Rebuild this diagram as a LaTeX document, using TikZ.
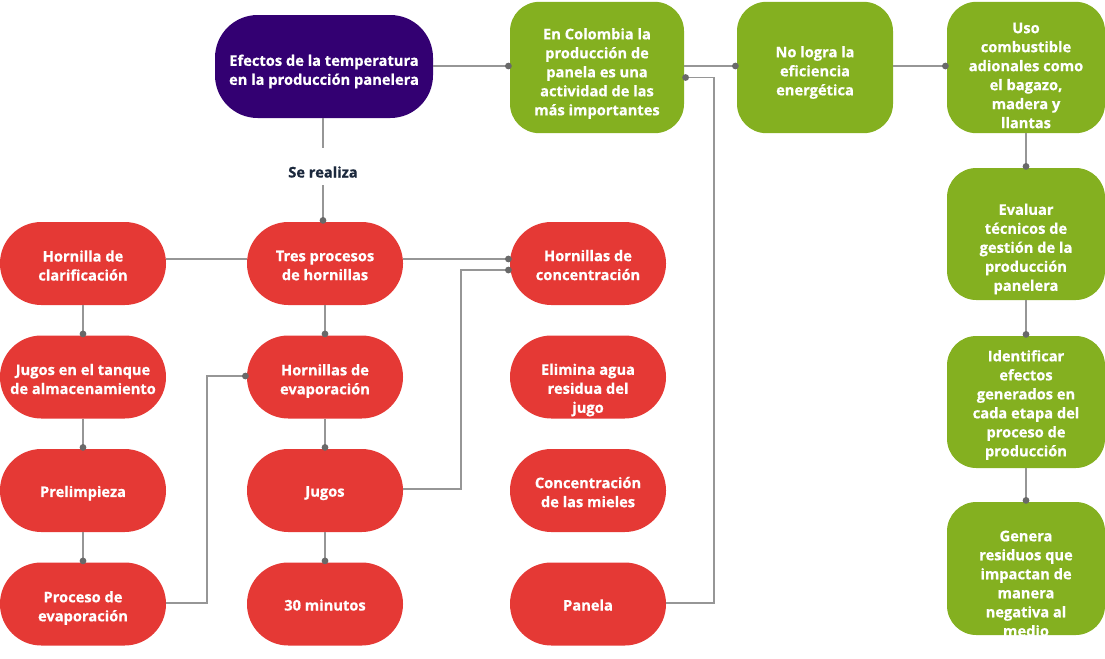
\documentclass[tikz,border=0pt]{standalone}
\usepackage{fontspec}
\setmainfont{Open Sans}[BoldFeatures={FakeBold=0.6}]
\usetikzlibrary{arrows.meta}
\definecolor{cred}{RGB}{229,57,53}
\definecolor{cgreen}{RGB}{132,176,32}
\definecolor{cpurple}{RGB}{51,0,114}
\definecolor{cline}{RGB}{150,150,150}
\definecolor{cdot}{RGB}{105,105,105}
\definecolor{cnavy}{RGB}{27,40,60}
\begin{document}
\begin{tikzpicture}[x=0.75pt,y=-0.75pt,
  box/.style={draw=none, inner sep=0pt},
  txt/.style={align=center, text=white, inner sep=0pt,
    font=\bfseries\fontsize{11}{14.25}\selectfont},
  redbox/.style={box, fill=cred, rounded corners=31pt, minimum width=117pt, minimum height=62.25pt},
  greenbox/.style={box, fill=cgreen, rounded corners=22pt, minimum width=117pt, minimum height=98.5pt},
  purplebox/.style={box, fill=cpurple, rounded corners=32pt, minimum width=163.5pt, minimum height=77.25pt},
  conn/.style={draw=cline, line width=0.9pt},
  dotconn/.style={conn, -{Circle[length=5pt,color=cdot]}, shorten >=-1.5pt},
  lbl/.style={text=cnavy, font=\bfseries\fontsize{11}{14.25}\selectfont, inner sep=0pt}
]
\useasboundingbox (0,0) rectangle (1105,658);

% top row
\node[purplebox] (ef) at (324,66.5) {};
\node[txt] (ef-t) at ([yshift=-3.75pt]ef.center) {Efectos de la temperatura\\en la producción panelera};
\node[greenbox, minimum width=130.5pt] (col) at (597,67.5) {};
\node[txt] (col-t) at ([yshift=-4.5pt]col.center) {En Colombia la\\producción de\\panela es una\\actividad de las\\más importantes};
\node[greenbox] (nl) at (815,67.5) {};
\node[txt] (nl-t) at ([yshift=-3.75pt]nl.center) {No logra la\\eficiencia\\energética};
\node[greenbox, minimum width=118.5pt] (uso) at (1026,67.5) {};
\node[txt] (uso-t) at ([yshift=-6pt]uso.center) {Uso\\combustible\\adionales como\\el bagazo,\\madera y\\llantas};
\node[greenbox, minimum width=118.5pt, minimum height=99pt] (ev) at (1026,234) {};
\node[txt] (ev-t) at ([yshift=-11.25pt]ev.center) {Evaluar\\técnicos de\\gestión de la\\producción\\panelera};
\node[greenbox, minimum width=118.5pt, minimum height=99pt] (id) at (1026,402) {};
\node[txt] (id-t) at ([yshift=-2.25pt]id.center) {Identificar\\efectos\\generados en\\cada etapa del\\proceso de\\producción};
\node[greenbox, minimum width=118.5pt, minimum height=99.75pt] (gen) at (1026,568.5) {};
\node[txt] (gen-t) at ([yshift=-11.25pt]gen.center) {Genera\\residuos que\\impactan de\\manera\\negativa al\\medio};

% label
\node[lbl] (sr) at (323,172) {Se realiza};
\coordinate (sra) at (323,148);
\coordinate (srb) at (323,185);

% red column 1
\node[redbox, minimum width=124.5pt] (cla) at (83,263.5) {};
\node[txt] (cla-t) at ([yshift=-1.5pt]cla.center) {Hornilla de\\clarificación};
\node[redbox, minimum width=124.5pt] (jt) at (83,377) {};
\node[txt] (jt-t) at ([yshift=-1.5pt]jt.center) {Jugos en el tanque\\de almacenamiento};
\node[redbox, minimum width=124.5pt] (pre) at (83,490.5) {};
\node[txt] (pre-t) at ([yshift=-2pt]pre.center) {Prelimpieza};
\node[redbox, minimum width=124.5pt] (pe) at (83,604) {};
\node[txt] (pe-t) at ([yshift=-3pt]pe.center) {Proceso de\\evaporación};
% red column 2
\node[redbox] (tres) at (325,263.5) {};
\node[txt] (tres-t) at ([yshift=-1.5pt]tres.center) {Tres procesos\\de hornillas};
\node[redbox] (he) at (325,377) {};
\node[txt] (he-t) at ([yshift=-3pt]he.center) {Hornillas de\\evaporación};
\node[redbox] (jug) at (325,490.5) {};
\node[txt] (jug-t) at ([yshift=-2pt]jug.center) {Jugos};
\node[redbox] (min) at (325,604) {};
\node[txt] (min-t) at ([yshift=-0.75pt]min.center) {30 minutos};
% red column 3
\node[redbox] (hc) at (588,263.5) {};
\node[txt] (hc-t) at ([yshift=-1.2pt]hc.center) {Hornillas de\\concentración};
\node[redbox] (eli) at (588,377) {};
\node[txt] (eli-t) at ([yshift=-9.75pt]eli.center) {Elimina agua\\residua del\\jugo};
\node[redbox] (con) at (588,490.5) {};
\node[txt] (con-t) at ([yshift=-1.2pt]con.center) {Concentración\\de las mieles};
\node[redbox] (pan) at (588,604) {};
\node[txt] (pan-t) at ([yshift=-0.75pt]pan.center) {Panela};

% connectors
\draw[dotconn] (ef.east |- 0,66) -- (col.west |- 0,66);
\draw[dotconn] (col.east |- 0,66) -- (nl.west |- 0,66);
\draw[dotconn] (nl.east |- 0,66) -- (uso.west |- 0,66);
\coordinate (k1) at (714,603);
\draw[dotconn] (pan.east |- k1) -- (k1) |- ([yshift=-7.5pt]col.east);
\draw[dotconn] (uso.south) -- (ev.north);
\draw[dotconn] (ev.south) -- (id.north);
\draw[dotconn] (id.south) -- (gen.north);

\draw[conn] (ef.south -| sra) -- (sra);
\draw[dotconn] (srb) -- (tres.north -| srb);

\draw[conn] ([yshift=3.4pt]tres.west) -- ([yshift=3.4pt]cla.east);
\draw[dotconn] ([yshift=3.4pt]tres.east) -- ([yshift=3.4pt]hc.west);
\coordinate (k2) at (461,489);
\draw[dotconn] (jug.east |- k2) -- (k2) |- ([yshift=-4.9pt]hc.west);

\draw[dotconn] (cla.south) -- (jt.north);
\draw[dotconn] (jt.south) -- (pre.north);
\draw[dotconn] (pre.south) -- (pe.north);
\coordinate (k3) at (207,603);
\draw[dotconn] (pe.east |- k3) -- (k3) |- ([yshift=0.75pt]he.west);

\draw[dotconn] (tres.south) -- (he.north);
\draw[dotconn] (he.south) -- (jug.north);
\draw[dotconn] (jug.south) -- (min.north);
\end{tikzpicture}
\end{document}
